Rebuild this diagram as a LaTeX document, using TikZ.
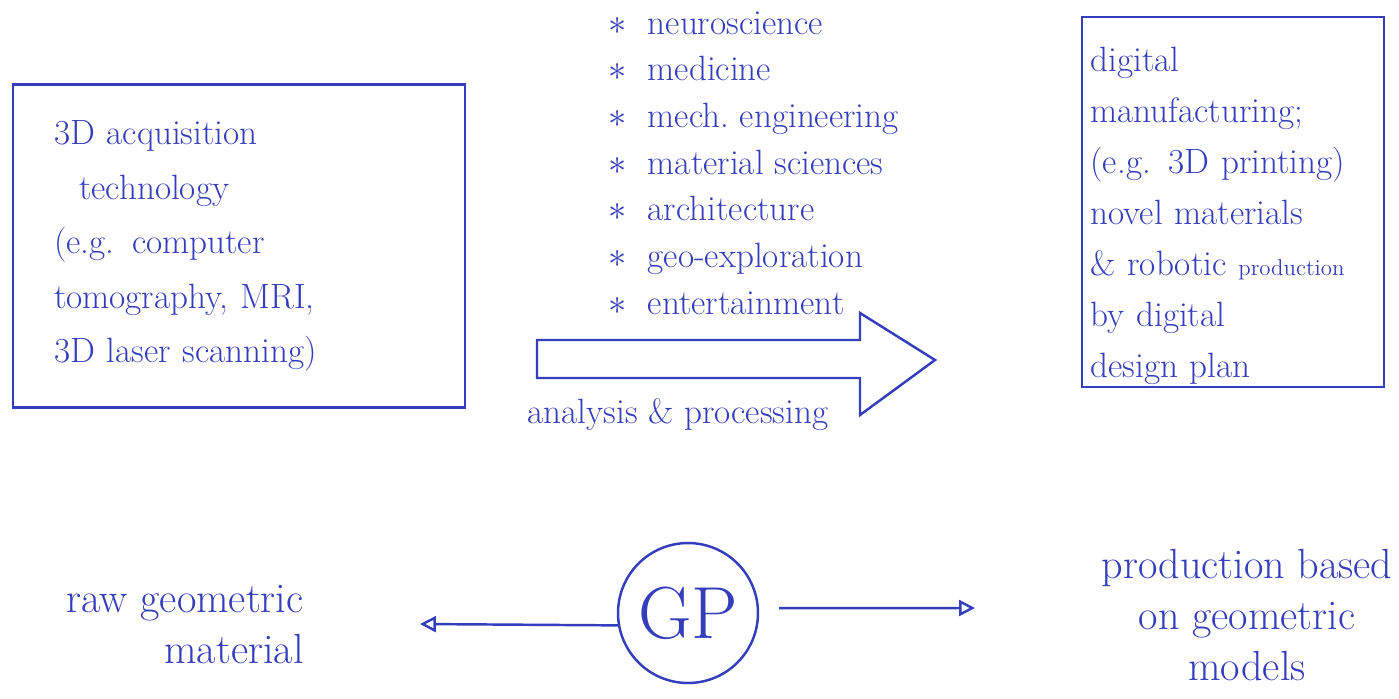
\documentclass[tikz,border=0pt]{standalone}
\usepackage{tikz}
\usetikzlibrary{arrows.meta}
\definecolor{pen}{RGB}{52,62,188}
\begin{document}
\begin{tikzpicture}[x=0.02cm,y=-0.02cm,
  hand/.style={text=pen, font=\fontsize{20}{29}\selectfont, inner sep=0pt},
  box/.style={draw=pen, text=pen, line width=1.4pt, align=left, inner sep=0pt},
  arr/.style={draw=pen, line width=1.4pt, -{Triangle[open,length=9pt,width=9pt]}}]
\useasboundingbox (0,0) rectangle (1399,698);
% left box
\node[box, minimum width=9.04cm, minimum height=6.46cm, text width=7.4cm,
      font=\fontsize{20}{31}\selectfont] (acq) at (239,246)
  {3D acquisition\\\hspace*{0.5cm}technology\\(e.g. computer\\tomography, MRI,\\3D laser scanning)};
% list of fields
\foreach \t [count=\i] in {neuroscience, medicine, mech.\ engineering, material sciences, architecture, geo-exploration, entertainment}
  \node[hand, anchor=base west] (f\i) at (608,{34+46.7*(\i-1)}) {$\ast$\ \ \t};
% block arrow
\draw[pen, line width=1.4pt] (537,340) -- (860,340) -- (860,313) -- (935,360)
  -- (860,415) -- (860,378) -- (537,378) -- cycle;
\node[hand] (ap) at (678,415) {analysis \& processing};
% right box
\node[box, minimum width=6.04cm, minimum height=7.4cm, text width=5.7cm,
      font=\fontsize{20}{29}\selectfont] (dm) at (1233,202)
  {\rule{0pt}{30pt}digital\\manufacturing;\\(e.g. 3D printing)\\novel materials\\\& robotic {\fontsize{13}{13}\selectfont production}\\by digital\\design plan};
% bottom row
\node[hand, font=\fontsize{24}{29}\selectfont, align=right] (raw) at (185,625) {raw geometric\\material};
\node[circle, draw=pen, text=pen, line width=1.4pt, minimum size=2.8cm, inner sep=0pt,
      font=\fontsize{42}{42}\selectfont] (gp) at (688,613) {GP};
\node[hand, font=\fontsize{24}{29}\selectfont, align=center] (prod) at (1247,615) {production based\\on geometric\\models};
\coordinate (la) at (420,624);
\coordinate (ra) at (975,608);
\draw[arr] (gp.190) -- (la);
\draw[arr, shorten <=0.4cm] (gp.4) -- (ra);
\end{tikzpicture}
\end{document}
